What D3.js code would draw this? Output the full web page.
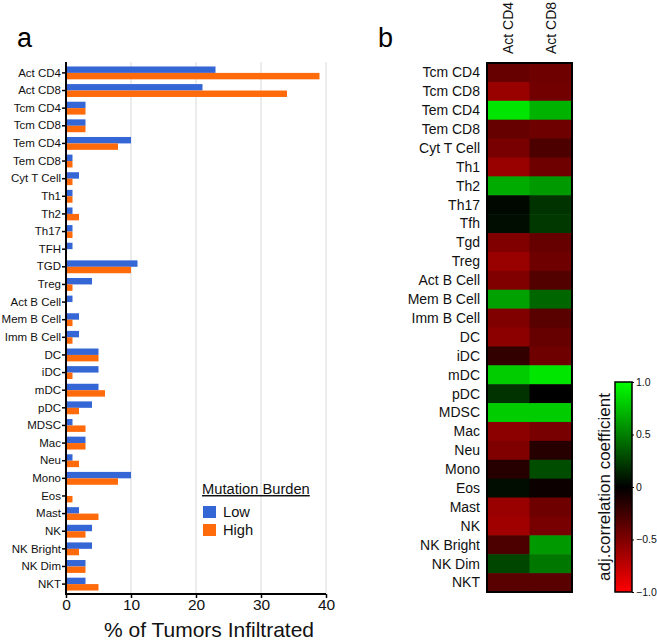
<!DOCTYPE html>
<html>
<head>
<meta charset="utf-8">
<script src="https://cdn.jsdelivr.net/npm/d3@7"></script>
<style>
  body { margin: 0; background: #fff; }
  svg { font-family: "Liberation Sans", Arial, sans-serif; }
</style>
</head>
<body>
<svg width="657" height="641"></svg>
<script>
// ---- data: panel a ----
const cells = ['Act CD4','Act CD8','Tcm CD4','Tcm CD8','Tem CD4','Tem CD8','Cyt T Cell','Th1','Th2','Th17',
  'TFH','TGD','Treg','Act B Cell','Mem B Cell','Imm B Cell','DC','iDC','mDC','pDC',
  'MDSC','Mac','Neu','Mono','Eos','Mast','NK','NK Bright','NK Dim','NKT'];
const lowBurden  = [23,21,3,3,10,1,2,1,1,1, 1,11,4,1,2,2,5,5,5,4, 1,3,1,10,0,2,4,4,3,3];
const highBurden = [39,34,3,3,8,1,1,1,2,1, 0,10,1,0,1,1,5,1,6,2, 3,3,2,8,1,5,3,2,3,5];
const xTicks = [0,10,20,30,40];

// ---- data: panel b ----
const heatRows = ['Tcm CD4','Tcm CD8','Tem CD4','Tem CD8','Cyt T Cell','Th1','Th2','Th17','Tfh','Tgd',
  'Treg','Act B Cell','Mem B Cell','Imm B Cell','DC','iDC','mDC','pDC','MDSC','Mac',
  'Neu','Mono','Eos','Mast','NK','NK Bright','NK Dim','NKT'];
const heatCols = ['Act CD4','Act CD8'];
const corrCD4 = [-0.40,-0.60,0.90,-0.40,-0.47,-0.60,0.67,0.03,0.05,-0.50,
  -0.60,-0.50,0.63,-0.50,-0.55,-0.20,0.80,0.20,0.80,-0.55,
  -0.50,-0.15,0.05,-0.60,-0.63,-0.30,0.27,-0.35];
const corrCD8 = [-0.43,-0.45,0.70,-0.43,-0.30,-0.43,0.60,0.20,0.22,-0.40,
  -0.43,-0.32,0.40,-0.35,-0.40,-0.43,0.90,0.00,0.80,-0.47,
  -0.15,0.30,-0.05,-0.43,-0.47,0.60,0.47,-0.35];
const cbTicks = [1, 0.5, 0, -0.5, -1];

const svg = d3.select('svg');
const blue = '#3566d6', orange = '#ff6a0a';

// ================= panel a =================
svg.append('text').attr('x', 17).attr('y', 47).attr('font-size', 27).text('a');

const x = d3.scaleLinear().domain([0, 40]).range([66, 326]);
const y = d3.scaleBand().domain(cells).range([64, 593]).paddingInner(0.27).paddingOuter(0.14);
const ySub = d3.scaleBand().domain(['low','high']).range([0, y.bandwidth()]);

// grid
svg.append('g').selectAll('line')
  .data(xTicks.slice(1))
  .enter().append('line')
  .attr('x1', d => x(d)).attr('x2', d => x(d))
  .attr('y1', 62).attr('y2', 594)
  .attr('stroke', '#d9d9d9').attr('stroke-width', 1);

const rows = svg.append('g').selectAll('g')
  .data(cells)
  .enter().append('g')
  .attr('transform', d => 'translate(0,' + y(d) + ')');

rows.append('rect')
  .attr('x', x(0))
  .attr('y', ySub('low'))
  .attr('height', ySub.bandwidth())
  .attr('width', (d, i) => x(lowBurden[i]) - x(0))
  .attr('fill', blue);

rows.append('rect')
  .attr('x', x(0))
  .attr('y', ySub('high'))
  .attr('height', ySub.bandwidth())
  .attr('width', (d, i) => x(highBurden[i]) - x(0))
  .attr('fill', orange);

// axes
const yAxis = svg.append('g')
  .attr('transform', 'translate(' + x(0) + ',0)')
  .call(d3.axisLeft(y).tickSize(4).tickSizeOuter(0).tickPadding(1));
yAxis.select('.domain').attr('d', 'M0,62V594').attr('stroke-width', 2);
yAxis.selectAll('.tick line').attr('stroke-width', 1.5);
yAxis.selectAll('.tick text').attr('font-size', 11.5).attr('fill', '#111')
  .attr('font-family', '"Liberation Sans", Arial, sans-serif');

const xAxis = svg.append('g')
  .attr('transform', 'translate(0,594)')
  .call(d3.axisBottom(x).tickValues(xTicks).tickSize(4).tickSizeOuter(0).tickPadding(1));
xAxis.select('.domain').attr('d', 'M65,0H326').attr('stroke-width', 2);
xAxis.selectAll('.tick line').attr('stroke-width', 1.5);
xAxis.selectAll('.tick text').attr('font-size', 15.5).attr('fill', '#111')
  .attr('font-family', '"Liberation Sans", Arial, sans-serif');

svg.append('text')
  .attr('x', 209).attr('y', 637)
  .attr('text-anchor', 'middle').attr('font-size', 21).attr('fill', '#111')
  .text('% of Tumors Infiltrated');

// legend
const lg = svg.append('g').attr('transform', 'translate(202,0)');
lg.append('text').attr('x', 0).attr('y', 494).attr('font-size', 14.7)
  .attr('text-decoration', 'underline').attr('fill', '#111').text('Mutation Burden');
[['Low', blue, 506], ['High', orange, 524]].forEach(([t, c, yy]) => {
  lg.append('rect').attr('x', 1).attr('y', yy).attr('width', 13).attr('height', 12).attr('fill', c);
  lg.append('text').attr('x', 21).attr('y', yy + 11).attr('font-size', 14.7).attr('fill', '#111').text(t);
});

// ================= panel b =================
svg.append('text').attr('x', 378).attr('y', 47).attr('font-size', 27).text('b');

const hx = d3.scaleBand().domain(heatCols).range([487, 572]);
const hy = d3.scaleBand().domain(heatRows).range([63, 592]);
const color = d3.scaleLinear().domain([-1, 0, 1]).range(['#ff0000', '#000000', '#00ff00']);
const corr = [corrCD4, corrCD8];

heatCols.forEach((c, j) => {
  svg.append('g').selectAll('rect')
    .data(heatRows)
    .enter().append('rect')
    .attr('x', hx(c))
    .attr('y', d => hy(d))
    .attr('width', hx.bandwidth() + 0.6)
    .attr('height', hy.bandwidth() + 0.6)
    .attr('fill', (d, i) => color(corr[j][i]));
});

svg.append('rect')
  .attr('x', 487).attr('y', 63).attr('width', 85).attr('height', 529)
  .attr('fill', 'none').attr('stroke', '#000').attr('stroke-width', 2);

svg.append('g').selectAll('text')
  .data(heatRows)
  .enter().append('text')
  .attr('x', 480)
  .attr('y', d => hy(d) + hy.bandwidth() / 2)
  .attr('dy', '0.35em')
  .attr('text-anchor', 'end')
  .attr('font-size', 14)
  .attr('fill', '#111')
  .text(d => d);

svg.append('g').selectAll('text')
  .data(heatCols)
  .enter().append('text')
  .attr('transform', d => 'translate(' + (hx(d) + hx.bandwidth() / 2 + 5) + ',54) rotate(-90)')
  .attr('font-size', 14)
  .attr('fill', '#111')
  .text(d => d);

// colour bar
const cb = d3.scaleLinear().domain([-1, 1]).range([592, 382]);
const defs = svg.append('defs');
const grad = defs.append('linearGradient').attr('id', 'cbgrad')
  .attr('x1', 0).attr('y1', 1).attr('x2', 0).attr('y2', 0);
[-1, 0, 1].forEach(v => {
  grad.append('stop').attr('offset', ((v + 1) / 2 * 100) + '%').attr('stop-color', color(v));
});
svg.append('rect')
  .attr('x', 615).attr('y', cb(1)).attr('width', 17).attr('height', cb(-1) - cb(1))
  .attr('fill', 'url(#cbgrad)').attr('stroke', '#000').attr('stroke-width', 1.5);

const cbAxis = svg.append('g')
  .attr('transform', 'translate(632,0)')
  .call(d3.axisRight(cb).tickValues(cbTicks).tickSize(2).tickPadding(2)
    .tickFormat(d => d === 0 ? '0' : d3.format('.1f')(d)));
cbAxis.select('.domain').remove();
cbAxis.selectAll('.tick text').attr('font-size', 10.5).attr('fill', '#111')
  .attr('font-family', '"Liberation Sans", Arial, sans-serif');

svg.append('text')
  .attr('transform', 'translate(610,' + cb(0) + ') rotate(-90)')
  .attr('text-anchor', 'middle').attr('font-size', 17).attr('fill', '#111')
  .text('adj.correlation coefficient');
</script>
</body>
</html>
